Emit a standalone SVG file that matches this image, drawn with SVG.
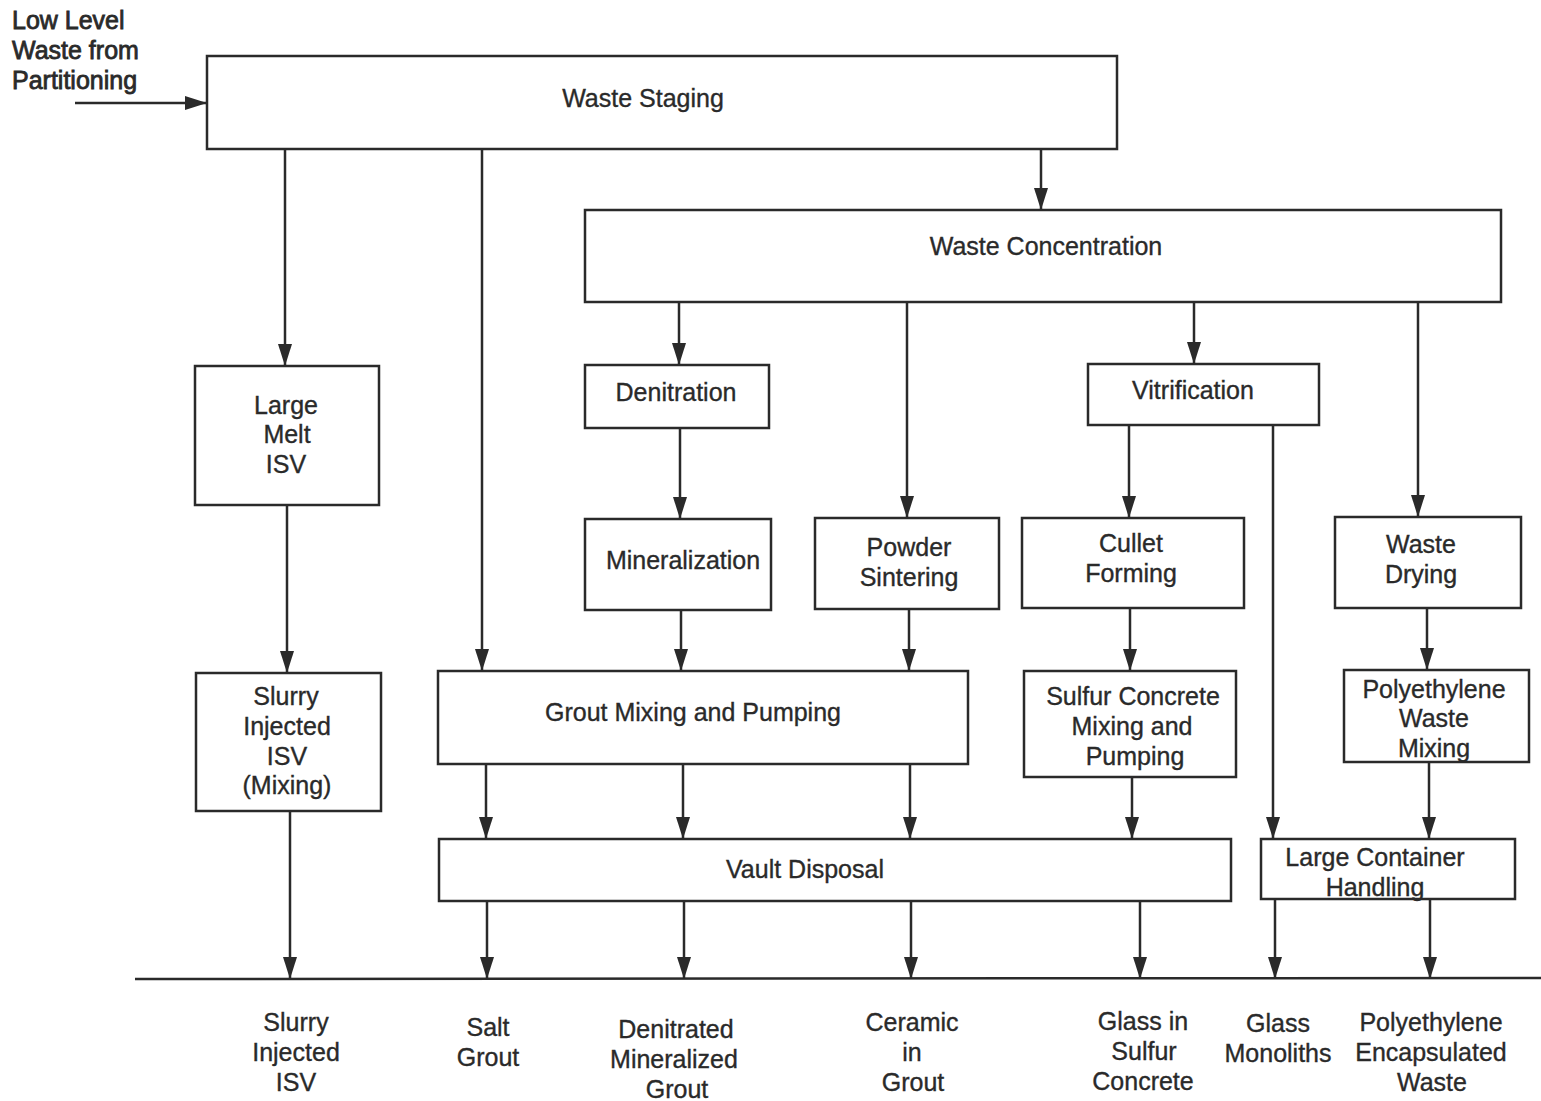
<svg xmlns="http://www.w3.org/2000/svg" width="1541" height="1101" viewBox="0 0 1541 1101">
<defs>
<marker id="ah" markerWidth="22" markerHeight="14" refX="22" refY="7" orient="auto" markerUnits="userSpaceOnUse">
<path d="M0,0 L22,7 L0,14 Z" fill="#2a2a2a"/>
</marker>
<style>
rect{fill:#fff;stroke:#2a2a2a;stroke-width:2.5}
text{font-family:"Liberation Sans",Arial,sans-serif;font-size:25px;fill:#2a2a2a;stroke:#2a2a2a;stroke-width:0.35;text-anchor:middle;dominant-baseline:central}
.c line{stroke:#2a2a2a;stroke-width:2.5;marker-end:url(#ah)}
.base{stroke:#2a2a2a;stroke-width:2.5}
.lbl{text-anchor:start;stroke-width:0.8}
</style>
</defs>
<rect x="0" y="0" width="1541" height="1101" style="fill:#fff;stroke:none"/>
<g id="input-label">
<text class="lbl" x="12" y="20">Low Level</text>
<text class="lbl" x="12" y="50">Waste from</text>
<text class="lbl" x="12" y="80">Partitioning</text>
</g>
<g id="waste-staging"><rect x="207" y="56" width="910" height="93"/><text x="643" y="98">Waste Staging</text></g>
<g id="waste-concentration"><rect x="585" y="210" width="916" height="92"/><text x="1046" y="246">Waste Concentration</text></g>
<g id="large-melt"><rect x="195" y="366" width="184" height="139"/><text x="286" y="405">Large</text><text x="287" y="434">Melt</text><text x="286" y="464">ISV</text></g>
<g id="denitration"><rect x="585" y="365" width="184" height="63"/><text x="676" y="392">Denitration</text></g>
<g id="vitrification"><rect x="1088" y="364" width="231" height="61"/><text x="1193" y="390">Vitrification</text></g>
<g id="mineralization"><rect x="585" y="519" width="186" height="91"/><text x="683" y="560">Mineralization</text></g>
<g id="powder-sintering"><rect x="815" y="518" width="184" height="91"/><text x="909" y="547">Powder</text><text x="909" y="577">Sintering</text></g>
<g id="cullet-forming"><rect x="1022" y="518" width="222" height="90"/><text x="1131" y="543">Cullet</text><text x="1131" y="573">Forming</text></g>
<g id="waste-drying"><rect x="1335" y="517" width="186" height="91"/><text x="1421" y="544">Waste</text><text x="1421" y="574">Drying</text></g>
<g id="slurry-injected"><rect x="196" y="673" width="185" height="138"/><text x="286" y="696">Slurry</text><text x="287" y="726">Injected</text><text x="287" y="756">ISV</text><text x="287" y="785">(Mixing)</text></g>
<g id="grout-mixing"><rect x="438" y="671" width="530" height="93"/><text x="693" y="712">Grout Mixing and Pumping</text></g>
<g id="sulfur-concrete"><rect x="1024" y="671" width="212" height="106"/><text x="1133" y="696">Sulfur Concrete</text><text x="1132" y="726">Mixing and</text><text x="1135" y="756">Pumping</text></g>
<g id="polyethylene-mixing"><rect x="1344" y="670" width="185" height="92"/><text x="1434" y="689">Polyethylene</text><text x="1434" y="718">Waste</text><text x="1434" y="748">Mixing</text></g>
<g id="vault-disposal"><rect x="439" y="839" width="792" height="62"/><text x="805" y="869">Vault Disposal</text></g>
<g id="large-container"><rect x="1261" y="839" width="254" height="60"/><text x="1375" y="857">Large Container</text><text x="1375" y="887">Handling</text></g>
<g id="connectors" class="c">
<line x1="75" y1="103" x2="207" y2="103"/>
<line x1="285" y1="149" x2="285" y2="366"/>
<line x1="482" y1="149" x2="482" y2="671"/>
<line x1="1041" y1="149" x2="1041" y2="210"/>
<line x1="679" y1="302" x2="679" y2="365"/>
<line x1="907" y1="302" x2="907" y2="518"/>
<line x1="1194" y1="302" x2="1194" y2="364"/>
<line x1="1418" y1="302" x2="1418" y2="517"/>
<line x1="680" y1="428" x2="680" y2="519"/>
<line x1="1129" y1="425" x2="1129" y2="518"/>
<line x1="1273" y1="425" x2="1273" y2="839"/>
<line x1="287" y1="505" x2="287" y2="673"/>
<line x1="681" y1="610" x2="681" y2="671"/>
<line x1="909" y1="609" x2="909" y2="671"/>
<line x1="1130" y1="608" x2="1130" y2="671"/>
<line x1="1427" y1="608" x2="1427" y2="670"/>
<line x1="486" y1="764" x2="486" y2="839"/>
<line x1="683" y1="764" x2="683" y2="839"/>
<line x1="910" y1="764" x2="910" y2="839"/>
<line x1="1132" y1="777" x2="1132" y2="839"/>
<line x1="1429" y1="762" x2="1429" y2="839"/>
<line x1="290" y1="811" x2="290" y2="979"/>
<line x1="487" y1="901" x2="487" y2="979"/>
<line x1="684" y1="901" x2="684" y2="979"/>
<line x1="911" y1="901" x2="911" y2="979"/>
<line x1="1140" y1="901" x2="1140" y2="979"/>
<line x1="1275" y1="899" x2="1275" y2="979"/>
<line x1="1430" y1="899" x2="1430" y2="979"/>
<line class="base" x1="135" y1="979" x2="1541" y2="978" style="marker-end:none"/>
</g>
<g id="products">
<text x="296" y="1022">Slurry</text><text x="296" y="1052">Injected</text><text x="296" y="1082">ISV</text>
<text x="488" y="1027">Salt</text><text x="488" y="1057">Grout</text>
<text x="676" y="1029">Denitrated</text><text x="674" y="1059">Mineralized</text><text x="677" y="1089">Grout</text>
<text x="912" y="1022">Ceramic</text><text x="912" y="1052">in</text><text x="913" y="1082">Grout</text>
<text x="1143" y="1021">Glass in</text><text x="1144" y="1051">Sulfur</text><text x="1143" y="1081">Concrete</text>
<text x="1278" y="1023">Glass</text><text x="1278" y="1053">Monoliths</text>
<text x="1431" y="1022">Polyethylene</text><text x="1431" y="1052">Encapsulated</text><text x="1432" y="1082">Waste</text>
</g>
</svg>
